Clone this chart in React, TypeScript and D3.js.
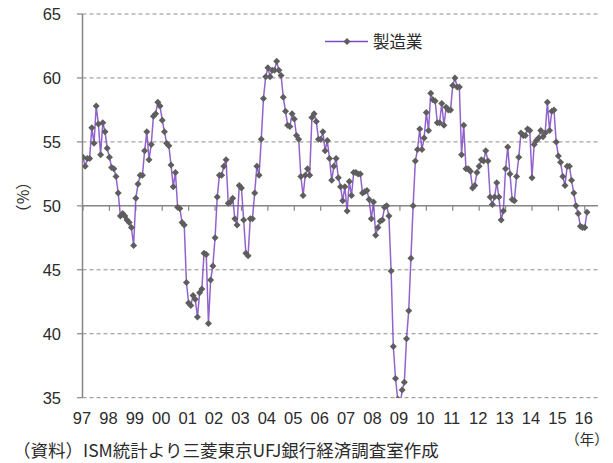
import React from 'react';
import * as d3 from 'd3';

// ISM manufacturing index, monthly, Jan 1997 - Feb 2016
const pmiValues: number[] = [
  // 1997
  53.8, 53.1, 53.7, 53.7, 56.1, 54.9, 57.8, 56.4, 54.0, 56.5, 55.8, 54.5,
  // 1998
  53.8, 53.0, 52.9, 52.3, 51.0, 49.2, 49.4, 49.2, 48.9, 48.7, 48.3, 46.9,
  // 1999
  50.6, 51.7, 52.4, 52.4, 54.3, 55.8, 53.6, 54.8, 57.0, 57.2, 58.1, 57.8,
  // 2000
  56.7, 55.8, 54.9, 54.7, 53.2, 51.5, 52.6, 49.9, 49.8, 48.7, 48.5, 44.0,
  // 2001
  42.4, 42.2, 43.0, 42.7, 41.3, 43.2, 43.5, 46.3, 46.2, 40.8, 44.2, 45.3,
  // 2002
  47.5, 50.7, 52.4, 52.4, 53.1, 53.6, 50.2, 50.3, 50.6, 49.0, 48.5, 51.6,
  // 2003
  51.4, 48.9, 46.3, 46.1, 49.0, 49.0, 51.0, 53.1, 52.4, 55.2, 58.4, 60.1,
  // 2004
  60.8, 60.1, 60.6, 60.6, 61.3, 60.6, 60.2, 58.5, 57.4, 56.3, 56.2, 57.2,
  // 2005
  56.8, 55.5, 55.2, 52.3, 50.8, 52.4, 52.9, 52.4, 56.9, 57.2, 56.6, 55.2,
  // 2006
  55.2, 55.8, 54.3, 55.1, 53.7, 52.0, 53.1, 53.7, 52.2, 51.5, 50.4, 51.5,
  // 2007
  49.6, 51.9, 50.8, 52.6, 52.6, 52.5, 52.5, 51.0, 51.1, 51.2, 50.5, 49.0,
  // 2008
  50.3, 47.7, 48.3, 48.8, 48.9, 49.9, 50.0, 49.2, 44.9, 39.0, 36.5, 34.9,
  // 2009
  34.2, 35.6, 36.2, 39.6, 41.8, 45.9, 50.0, 53.5, 54.4, 56.0, 54.4, 55.3,
  // 2010
  57.3, 55.9, 58.8, 58.3, 58.2, 56.5, 56.5, 58.0, 56.3, 57.7, 57.5, 57.5,
  // 2011
  59.4, 60.0, 59.3, 59.3, 54.0, 56.3, 52.9, 52.9, 52.7, 51.4, 51.6, 52.6,
  // 2012
  53.1, 53.6, 53.5, 54.3, 53.5, 50.7, 50.1, 50.7, 51.8, 50.7, 48.9, 49.6,
  // 2013
  52.9, 54.6, 52.5, 50.5, 50.4, 52.3, 53.8, 55.7, 55.5, 55.5, 56.0, 55.9,
  // 2014
  52.2, 54.8, 55.1, 55.3, 55.9, 55.4, 55.7, 58.1, 55.9, 57.4, 57.5, 55.0,
  // 2015
  53.9, 53.4, 52.3, 51.6, 53.1, 53.1, 52.0, 51.0, 50.0, 49.4, 48.4, 48.3,
  // 2016
  48.3, 49.5,
];

const yearLabels = ['97', '98', '99', '00', '01', '02', '03', '04', '05', '06',
  '07', '08', '09', '10', '11', '12', '13', '14', '15', '16'];
const yTicks = [35, 40, 45, 50, 55, 60, 65];
const seriesName = '製造業';
const sourceNote = '（資料）ISM統計より三菱東京UFJ銀行経済調査室作成';

const W = 613;
const H = 463;
const left = 82.5;
const right = 598;
const top = 14;
const bottom = 397.7;

const lineColor = '#8048c4';
const markerColor = '#5e5e5e';
const axisColor = '#868686';
const textColor = '#2b2b2b';
const latin = '"Liberation Sans", Arial, sans-serif';
const cjk = '"Noto Sans CJK JP", sans-serif';

const diamond = (r: number) => `M0,${-r}L${r},0L0,${r}L${-r},0Z`;

export default function App() {
  const x = d3.scaleLinear().domain([0, 234]).range([83, right]);
  const y = d3.scaleLinear().domain([35, 65]).range([bottom, top]);

  const line = d3
    .line<number>()
    .x((_, i) => x(i))
    .y((d) => y(d));

  const axisY = y(50);

  return (
    <svg
      width={W}
      height={H}
      style={{ position: 'absolute', left: 0, top: 0, background: '#fff' }}
    >
      <defs>
        <clipPath id="plot">
          <rect x={left} y={top - 5} width={right - left + 5} height={bottom - top + 5} />
        </clipPath>
      </defs>

      {/* gridlines */}
      {yTicks.filter((t) => t !== 50).map((t) => (
        <line key={t} x1={left} x2={right} y1={y(t)} y2={y(t)}
          stroke="#8c8c8c" strokeWidth={1} strokeDasharray="4,3" />
      ))}

      {/* y axis */}
      <line x1={left} x2={left} y1={top} y2={bottom} stroke={axisColor} strokeWidth={1.5} />
      {yTicks.map((t) => (
        <g key={t}>
          <line x1={77} x2={left} y1={y(t)} y2={y(t)} stroke={axisColor} strokeWidth={1.2} />
          <text x={61} y={y(t) + 6} textAnchor="end" fontFamily={latin}
            fontSize={16.5} fill={textColor}>{t}</text>
        </g>
      ))}
      <text transform={`translate(29,197) rotate(-90)`} textAnchor="middle"
        fontFamily={cjk} fontSize={16} fill={textColor}>（%）</text>

      {/* x axis at 50 */}
      <line x1={left} x2={right} y1={axisY} y2={axisY} stroke={axisColor} strokeWidth={1.5} />
      {yearLabels.map((lab, k) => (
        <g key={lab}>
          <line x1={x(k * 12)} x2={x(k * 12)} y1={axisY} y2={axisY + 5}
            stroke={axisColor} strokeWidth={1.2} />
          <text x={x(k * 12) - 1} y={424} textAnchor="middle" fontFamily={latin}
            fontSize={16.5} fill={textColor}>{lab}</text>
        </g>
      ))}
      <text x={587} y={445} textAnchor="middle" fontFamily={cjk} fontSize={14.5}
        fill={textColor}>（年）</text>

      {/* series */}
      <g clipPath="url(#plot)">
        <path d={line(pmiValues) || ''} fill="none" stroke={lineColor}
          strokeWidth={1.5} strokeOpacity={0.85} />
        {pmiValues.map((v, i) => (
          <path key={i} d={diamond(3.5)} transform={`translate(${x(i)},${y(v)})`}
            fill={markerColor} />
        ))}
      </g>

      {/* legend */}
      <line x1={325} x2={368} y1={41.5} y2={41.5} stroke={lineColor} strokeWidth={1.5} />
      <path d={diamond(3.5)} transform="translate(347,41.5)" fill={markerColor} />
      <text x={373} y={47.5} fontFamily={cjk} fontSize={16.5} fill={textColor}>{seriesName}</text>

      {/* source */}
      <text x={13} y={457} fontFamily={cjk} fontSize={17.5} fill={textColor}>{sourceNote}</text>
    </svg>
  );
}
